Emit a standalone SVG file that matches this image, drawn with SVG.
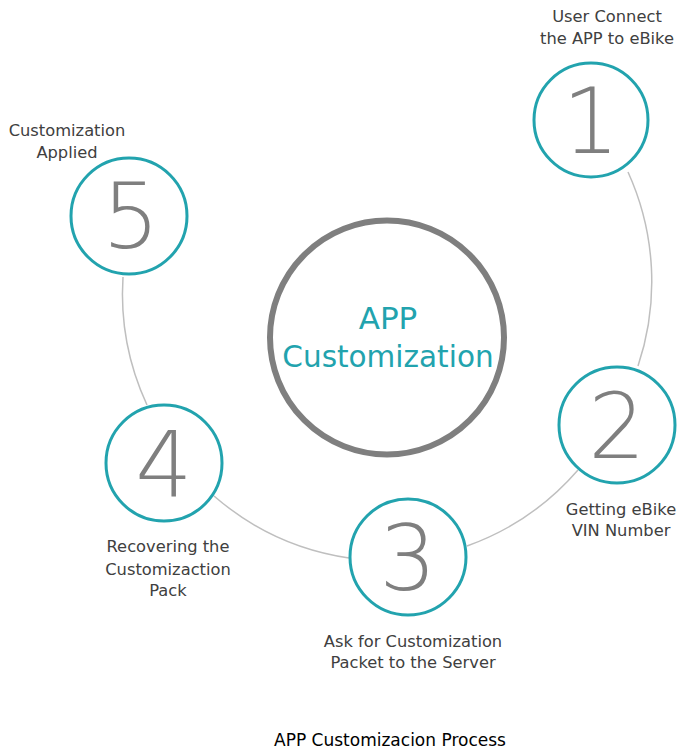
<svg xmlns="http://www.w3.org/2000/svg" width="693" height="753" viewBox="0 0 693 753">
<style>
.step{fill:#fff;stroke:#22a3ae;stroke-width:3}
.num{font-family:"DejaVu Sans","Liberation Sans",sans-serif;font-weight:200;font-size:90px;fill:#7f7f7f;text-anchor:middle}
.lbl{font-family:"DejaVu Sans","Liberation Sans",sans-serif;font-size:16.3px;fill:#404040;text-anchor:middle}
.conn{fill:none;stroke:#bfbfbf;stroke-width:1.5}
</style>
<rect width="693" height="753" fill="#fff"/>
<g id="connectors">
<path class="conn" d="M628,172 A265,265 0 0 1 638,366"/>
<path class="conn" d="M578,470 A265,265 0 0 1 467,546"/>
<path class="conn" d="M349,558 A265,265 0 0 1 214,496"/>
<path class="conn" d="M147,405 A265,265 0 0 1 123,277"/>
</g>
<g id="center">
<circle cx="387" cy="337.5" r="117" fill="#fff" stroke="#7f7f7f" stroke-width="6"/>
<text x="388" y="329" font-family="DejaVu Sans, sans-serif" font-size="31" fill="#22a3ae" text-anchor="middle">APP</text>
<text x="388" y="367" font-family="DejaVu Sans, sans-serif" font-size="29.5" fill="#22a3ae" text-anchor="middle">Customization</text>
</g>
<g id="step1">
<circle class="step" cx="591" cy="120" r="57"/>
<text class="num" x="591" y="153">1</text>
<text class="lbl" x="607" y="22">User Connect</text>
<text class="lbl" x="607" y="44">the APP to eBike</text>
</g>
<g id="step2">
<circle class="step" cx="617" cy="425" r="58"/>
<text class="num" x="617" y="458">2</text>
<text class="lbl" x="621" y="515">Getting eBike</text>
<text class="lbl" x="621" y="536">VIN Number</text>
</g>
<g id="step3">
<circle class="step" cx="408" cy="557" r="58"/>
<text class="num" x="408" y="590">3</text>
<text class="lbl" x="413" y="647">Ask for Customization</text>
<text class="lbl" x="413" y="668">Packet to the Server</text>
</g>
<g id="step4">
<circle class="step" cx="164" cy="463" r="58"/>
<text class="num" x="164" y="497">4</text>
<text class="lbl" x="168" y="552">Recovering the</text>
<text class="lbl" x="168" y="575">Customizaction</text>
<text class="lbl" x="168" y="596">Pack</text>
</g>
<g id="step5">
<circle class="step" cx="129" cy="216" r="58"/>
<text class="num" x="131" y="248">5</text>
<text class="lbl" x="67" y="136">Customization</text>
<text class="lbl" x="67" y="158">Applied</text>
</g>
<g id="title">
<text x="390" y="746" font-family="DejaVu Sans, sans-serif" font-size="17" fill="#000" text-anchor="middle">APP Customizacion Process</text>
</g>
</svg>
